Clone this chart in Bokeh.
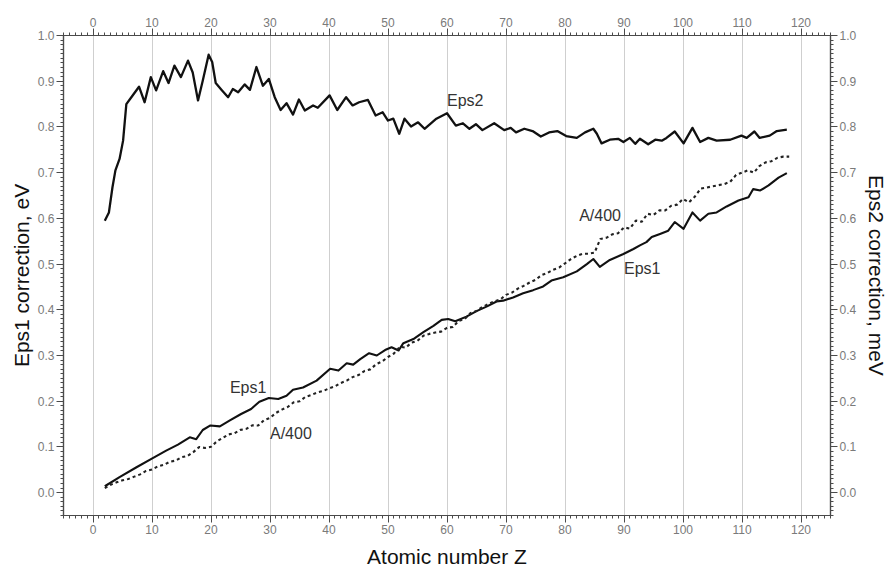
from bokeh.plotting import figure
from bokeh.models import (LinearAxis, Range1d, FixedTicker, NumeralTickFormatter,
                          ColumnDataSource)
from bokeh.core.properties import value
from bokeh.embed import file_html
from bokeh.resources import INLINE

# ---------------- data ----------------
eps2_z = [2, 2.7, 3.3, 3.8, 4.5, 5.1, 5.65, 6.5, 7.8, 8.75,
          9.8, 10.7, 11.9, 12.8, 13.8, 14.9, 16.1, 16.9, 17.8, 18.6,
          19.6, 20.2, 20.8, 21.8, 22.9, 23.7, 24.6, 25.7, 26.6, 27.7,
          28.8, 29.8, 30.8, 31.8, 32.8, 33.9, 34.9, 35.9, 37.3, 38.1,
          40.1, 41.4, 42.9, 44, 45.1, 46.6, 47.9, 49.1, 50, 50.9,
          51.9, 52.8, 53.9, 55.1, 56.2, 58.2, 60, 61.5, 62.7, 63.8,
          64.9, 66, 68, 69.7, 70.8, 71.7, 73.1, 74.5, 75.9, 77.3,
          78.7, 80.2, 82, 83.4, 84.8, 85.4, 86.2, 87.6, 89, 89.9,
          91, 91.9, 92.7, 94.1, 95.3, 96.4, 97.2, 98.6, 100.1, 101.6,
          102.9, 104.3, 105.7, 108, 109.9, 110.8, 112.1, 113, 114.7, 115.9,
          117.6]
eps2_v = [0.595, 0.613, 0.668, 0.705, 0.730, 0.770, 0.850, 0.865, 0.888, 0.854,
          0.909, 0.880, 0.922, 0.896, 0.934, 0.909, 0.945, 0.919, 0.858, 0.901,
          0.958, 0.942, 0.896, 0.881, 0.865, 0.883, 0.876, 0.893, 0.881, 0.931,
          0.890, 0.905, 0.865, 0.837, 0.852, 0.827, 0.860, 0.836, 0.847, 0.842,
          0.869, 0.837, 0.865, 0.847, 0.854, 0.859, 0.825, 0.832, 0.814, 0.818,
          0.785, 0.818, 0.801, 0.810, 0.796, 0.818, 0.830, 0.803, 0.808, 0.796,
          0.806, 0.793, 0.808, 0.793, 0.798, 0.788, 0.796, 0.791, 0.779, 0.788,
          0.791, 0.780, 0.776, 0.788, 0.796, 0.785, 0.764, 0.772, 0.774, 0.767,
          0.776, 0.763, 0.774, 0.762, 0.772, 0.770, 0.776, 0.790, 0.764, 0.798,
          0.767, 0.776, 0.770, 0.772, 0.781, 0.776, 0.790, 0.776, 0.781, 0.791,
          0.794]

eps1_z = [2, 4.5, 7.3, 9.9, 12.4, 14.4, 16.4, 17.5, 18.6, 19.9,
          21.5, 23.2, 25.1, 26.8, 28.2, 29.8, 31.4, 32.8, 33.9, 35.6,
          37.9, 40.2, 41.6, 43, 44.1, 45.3, 46.8, 48.1, 49.5, 50.6,
          51.8, 52.6, 54.3, 56, 57.7, 59.1, 60.2, 61.4, 63.3, 65,
          66.7, 68.4, 69.5, 71.2, 72.9, 74.6, 76.3, 77.7, 79.7, 82,
          83.7, 84.8, 85.9, 87.6, 89.9, 91.6, 92.7, 93.8, 94.7, 96.1,
          97.5, 98.6, 100.1, 101.6, 102.9, 104.3, 105.7, 107.4, 109.4, 111.1,
          111.9, 113.1, 114.5, 116.2, 117.6]
eps1_v = [0.014, 0.034, 0.055, 0.074, 0.092, 0.105, 0.121, 0.117, 0.137, 0.147,
          0.145, 0.158, 0.172, 0.183, 0.199, 0.207, 0.205, 0.212, 0.225, 0.230,
          0.245, 0.271, 0.267, 0.283, 0.280, 0.292, 0.305, 0.300, 0.312, 0.318,
          0.311, 0.327, 0.336, 0.351, 0.365, 0.378, 0.380, 0.375, 0.385, 0.397,
          0.407, 0.418, 0.420, 0.427, 0.436, 0.443, 0.451, 0.464, 0.471, 0.484,
          0.500, 0.511, 0.494, 0.509, 0.522, 0.533, 0.541, 0.548, 0.559, 0.566,
          0.573, 0.592, 0.577, 0.613, 0.595, 0.610, 0.613, 0.626, 0.639, 0.646,
          0.664, 0.661, 0.672, 0.689, 0.699]

# atomic mass A for Z = 2 .. 118 (plotted as A/400)
mass_z = list(range(2, 119))
mass_a = [4.003, 6.94, 9.012, 10.81, 12.011, 14.007, 15.999, 18.998, 20.180,
          22.990, 24.305, 26.982, 28.085, 30.974, 32.06, 35.45, 39.948, 39.098, 40.078,
          44.956, 47.867, 50.942, 51.996, 54.938, 55.845, 58.933, 58.693, 63.546, 65.38,
          69.723, 72.630, 74.922, 78.971, 79.904, 83.798, 85.468, 87.62, 88.906, 91.224,
          92.906, 95.95, 98.0, 101.07, 102.906, 106.42, 107.868, 112.414, 114.818, 118.710,
          121.760, 127.60, 126.904, 131.293, 132.905, 137.327, 138.905, 140.116, 140.908, 144.242,
          145.0, 150.36, 151.964, 157.25, 158.925, 162.500, 164.930, 167.259, 168.934, 173.045,
          174.967, 178.49, 180.948, 183.84, 186.207, 190.23, 192.217, 195.084, 196.967, 200.592,
          204.38, 207.2, 208.980, 209.0, 210.0, 222.0, 223.0, 226.0, 227.0, 232.038,
          231.036, 238.029, 237.0, 244.0, 243.0, 247.0, 247.0, 251.0, 252.0, 257.0,
          254.0, 259.0, 266.0, 267.0, 268.0, 269.0, 270.0, 272.0, 278.0, 280.0,
          282.0, 280.0, 286.0, 289.0, 290.0, 293.0, 294.0, 294.0]
a400 = [a / 400.0 for a in mass_a]

x_ticks = [0, 10, 20, 30, 40, 50, 60, 70, 80, 90, 100, 110, 120]
y_ticks = [0.0, 0.1, 0.2, 0.3, 0.4, 0.5, 0.6, 0.7, 0.8, 0.9, 1.0]
x_minor = list(range(-5, 126))
y_minor = [i / 100.0 for i in range(-5, 101)]

label_text = ["Eps2", "A/400", "Eps1", "Eps1", "A/400"]
label_x = [60, 82.4, 90, 23.2, 30]
label_y = [0.857, 0.606, 0.49, 0.230, 0.130]

# ---------------- figure ----------------
FONT = "Liberation Sans"
TICK_COLOR = "#7a7a7a"
AXIS_COLOR = "#4a4a4a"

p = figure(frame_width=767, frame_height=480,
           x_range=Range1d(-5, 125), y_range=Range1d(-0.05, 1.0),
           output_backend="svg", toolbar_location=None,
           min_border_left=63, min_border_right=40, min_border_top=35, min_border_bottom=40)
p.extra_y_ranges = {"eps2": Range1d(-0.05, 1.0)}
p.outline_line_color = AXIS_COLOR
p.outline_line_width = 1.2
p.background_fill_color = "white"
p.border_fill_color = "white"

xt = FixedTicker(ticks=x_ticks, minor_ticks=x_minor)
yt = FixedTicker(ticks=y_ticks, minor_ticks=y_minor)


def style_axis(ax):
    ax.axis_line_color = AXIS_COLOR
    ax.axis_line_width = 1.2
    ax.major_tick_line_color = AXIS_COLOR
    ax.minor_tick_line_color = AXIS_COLOR
    ax.major_tick_in = 0
    ax.major_tick_out = 7
    ax.minor_tick_in = 0
    ax.minor_tick_out = 3
    ax.major_label_text_font = FONT
    ax.major_label_text_font_size = "12px"
    ax.major_label_text_color = TICK_COLOR
    ax.major_label_standoff = 2
    ax.axis_label_text_font = FONT
    ax.axis_label_text_font_size = "21px"
    ax.axis_label_text_font_style = "normal"
    ax.axis_label_text_color = "#111111"
    ax.axis_label_standoff = 2


xa = p.xaxis[0]
xa.ticker = xt
xa.axis_label = "Atomic number Z"
style_axis(xa)
xa.axis_label_standoff = 8

ya = p.yaxis[0]
ya.ticker = yt
ya.formatter = NumeralTickFormatter(format="0.0")
ya.axis_label = "Eps1 correction, eV"
style_axis(ya)

top = LinearAxis(ticker=FixedTicker(ticks=x_ticks, minor_ticks=x_minor))
style_axis(top)
p.add_layout(top, "above")

right = LinearAxis(y_range_name="eps2", ticker=FixedTicker(ticks=y_ticks, minor_ticks=y_minor),
                   formatter=NumeralTickFormatter(format="0.0"),
                   axis_label="Eps2 correction, meV")
style_axis(right)
right.axis_label_standoff = 6
p.add_layout(right, "right")

p.xgrid.ticker = xt
p.xgrid.grid_line_color = "#cfcfcf"
p.xgrid.grid_line_width = 1
p.ygrid.grid_line_color = None

# curves
p.line(eps2_z, eps2_v, y_range_name="eps2", line_color="#111111", line_width=2.3,
       line_join="round")
p.line(eps1_z, eps1_v, line_color="#111111", line_width=2.1, line_join="round")
p.line(mass_z, a400, line_color="#222222", line_width=2.1, line_dash="3 3")

src = ColumnDataSource(dict(x=label_x, y=label_y, t=label_text))
p.text(x="x", y="y", text="t", source=src, text_font=value(FONT),
       text_font_size="16px", text_color="#333333",
       text_align="left", text_baseline="middle")

open("out.html", "w").write(file_html(p, INLINE))
